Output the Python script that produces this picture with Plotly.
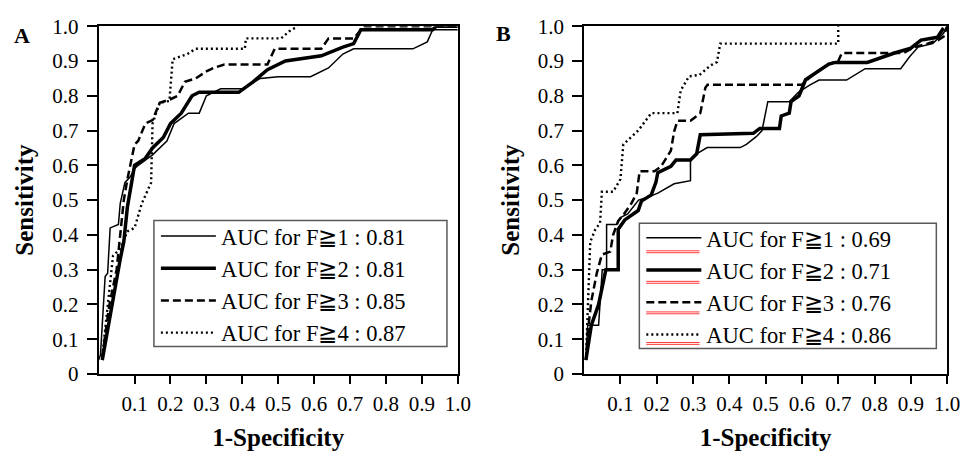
import plotly.graph_objects as go

# ---------------- data ----------------
# Panel A
A_F1_X = [0.0, 0.005, 0.018, 0.025, 0.032, 0.055, 0.06, 0.073, 0.088, 0.10, 0.11, 0.15, 0.19, 0.21, 0.25, 0.28, 0.30, 0.34, 0.40, 0.45, 0.50, 0.59, 0.64, 0.68, 0.71, 0.875, 0.915, 0.93, 1.0]
A_F1_Y = [0.04, 0.055, 0.28, 0.29, 0.42, 0.43, 0.49, 0.55, 0.567, 0.59, 0.60, 0.63, 0.67, 0.72, 0.75, 0.75, 0.80, 0.82, 0.82, 0.85, 0.855, 0.855, 0.88, 0.92, 0.935, 0.935, 0.955, 0.99, 0.99]

A_F2_X = [0.01, 0.02, 0.03, 0.04, 0.05, 0.06, 0.07, 0.08, 0.09, 0.10, 0.13, 0.15, 0.18, 0.20, 0.23, 0.26, 0.28, 0.39, 0.43, 0.47, 0.52, 0.62, 0.68, 0.71, 0.73, 0.93, 0.94, 1.0]
A_F2_Y = [0.04, 0.10, 0.16, 0.22, 0.28, 0.33, 0.38, 0.48, 0.54, 0.60, 0.62, 0.65, 0.68, 0.72, 0.75, 0.80, 0.81, 0.81, 0.84, 0.875, 0.90, 0.915, 0.94, 0.95, 0.99, 0.99, 1.0, 1.0]

A_F3_X = [0.01, 0.02, 0.03, 0.05, 0.06, 0.07, 0.08, 0.09, 0.10, 0.11, 0.13, 0.15, 0.17, 0.20, 0.22, 0.24, 0.27, 0.30, 0.32, 0.35, 0.47, 0.49, 0.62, 0.64, 0.71, 0.74, 1.0]
A_F3_Y = [0.05, 0.12, 0.20, 0.30, 0.40, 0.50, 0.56, 0.61, 0.66, 0.67, 0.72, 0.73, 0.78, 0.79, 0.80, 0.84, 0.85, 0.87, 0.88, 0.89, 0.89, 0.935, 0.935, 0.965, 0.965, 1.0, 1.0]

A_F4_X = [0.01, 0.02, 0.03, 0.04, 0.06, 0.08, 0.10, 0.12, 0.146, 0.15, 0.17, 0.197, 0.206, 0.247, 0.27, 0.407, 0.41, 0.508, 0.53, 0.554]
A_F4_Y = [0.05, 0.15, 0.25, 0.34, 0.36, 0.41, 0.42, 0.49, 0.55, 0.72, 0.78, 0.785, 0.905, 0.92, 0.935, 0.935, 0.965, 0.965, 0.985, 1.0]

# Panel B
B_F1_X = [0.005, 0.01, 0.04, 0.05, 0.062, 0.062, 0.09, 0.10, 0.12, 0.15, 0.18, 0.203, 0.248, 0.293, 0.293, 0.31, 0.339, 0.43, 0.447, 0.475, 0.49, 0.506, 0.565, 0.59, 0.62, 0.647, 0.723, 0.774, 0.872, 0.897, 0.92, 0.96, 0.99, 1.0]
B_F1_Y = [0.04, 0.14, 0.14, 0.30, 0.30, 0.43, 0.43, 0.45, 0.46, 0.50, 0.51, 0.52, 0.547, 0.556, 0.615, 0.633, 0.651, 0.651, 0.66, 0.683, 0.70, 0.783, 0.783, 0.81, 0.83, 0.845, 0.845, 0.878, 0.878, 0.913, 0.94, 0.95, 0.98, 1.0]

B_F2_X = [0.005, 0.02, 0.04, 0.05, 0.06, 0.094, 0.094, 0.112, 0.149, 0.158, 0.185, 0.198, 0.203, 0.239, 0.253, 0.293, 0.31, 0.32, 0.466, 0.484, 0.538, 0.543, 0.565, 0.57, 0.592, 0.61, 0.629, 0.656, 0.674, 0.692, 0.78, 0.855, 0.90, 0.928, 0.973, 0.99]
B_F2_Y = [0.04, 0.14, 0.20, 0.25, 0.30, 0.30, 0.416, 0.443, 0.47, 0.497, 0.515, 0.552, 0.579, 0.597, 0.615, 0.615, 0.633, 0.688, 0.692, 0.706, 0.706, 0.742, 0.75, 0.783, 0.80, 0.846, 0.86, 0.878, 0.891, 0.896, 0.896, 0.923, 0.937, 0.96, 0.968, 0.995]

B_F3_X = [0.005, 0.01, 0.02, 0.035, 0.049, 0.072, 0.08, 0.094, 0.11, 0.13, 0.145, 0.153, 0.194, 0.212, 0.239, 0.248, 0.257, 0.293, 0.32, 0.334, 0.34, 0.60, 0.629, 0.656, 0.674, 0.70, 0.71, 0.88, 0.91, 0.946, 0.975, 0.99, 1.0]
B_F3_Y = [0.04, 0.12, 0.21, 0.29, 0.343, 0.352, 0.40, 0.44, 0.46, 0.49, 0.52, 0.583, 0.583, 0.597, 0.642, 0.697, 0.728, 0.728, 0.75, 0.823, 0.832, 0.832, 0.86, 0.878, 0.891, 0.90, 0.923, 0.923, 0.94, 0.95, 0.96, 0.97, 1.0]

B_F4_X = [0.005, 0.01, 0.017, 0.031, 0.044, 0.049, 0.08, 0.10, 0.108, 0.149, 0.185, 0.257, 0.266, 0.289, 0.318, 0.348, 0.366, 0.375, 0.70, 0.70]
B_F4_Y = [0.04, 0.20, 0.38, 0.416, 0.434, 0.524, 0.524, 0.56, 0.66, 0.70, 0.75, 0.75, 0.815, 0.856, 0.86, 0.887, 0.897, 0.95, 0.95, 1.0]

A_NAMES = ["AUC for F\u22671 : 0.81", "AUC for F\u22672 : 0.81", "AUC for F\u22673 : 0.85", "AUC for F\u22674 : 0.87"]
B_NAMES = ["AUC for F\u22671 : 0.69", "AUC for F\u22672 : 0.71", "AUC for F\u22673 : 0.76", "AUC for F\u22674 : 0.86"]

X_TICKVALS = [0.1, 0.2, 0.3, 0.4, 0.5, 0.6, 0.7, 0.8, 0.9, 1.0]
X_TICKTEXT = ["0.1", "0.2", "0.3", "0.4", "0.5", "0.6", "0.7", "0.8", "0.9", "1.0"]
Y_TICKVALS = [0, 0.1, 0.2, 0.3, 0.4, 0.5, 0.6, 0.7, 0.8, 0.9, 1.0]
Y_TICKTEXT = ["0", "0.1", "0.2", "0.3", "0.4", "0.5", "0.6", "0.7", "0.8", "0.9", "1.0"]

# ---------------- styles ----------------
W, H = 973, 458
SERIF = "Liberation Serif, Times New Roman, serif"
LINE_STYLES = [
    dict(color="black", width=1.5, dash="solid"),
    dict(color="black", width=3.5, dash="solid"),
    dict(color="black", width=2.5, dash="8px,4px"),
    dict(color="black", width=2.4, dash="2px,3px"),
]
LEGEND_FONT = 22.5
ITEM_H = LEGEND_FONT * 1.3 + 3
ROW0_OFF = 28
LEG_TOP_A = 214
LEG_TOP_B = 216

fig = go.Figure()

panelA = [(A_F1_X, A_F1_Y), (A_F2_X, A_F2_Y), (A_F3_X, A_F3_Y), (A_F4_X, A_F4_Y)]
panelB = [(B_F1_X, B_F1_Y), (B_F2_X, B_F2_Y), (B_F3_X, B_F3_Y), (B_F4_X, B_F4_Y)]

for i, (xs, ys) in enumerate(panelA):
    fig.add_trace(go.Scatter(x=xs, y=ys, mode="lines", name=A_NAMES[i], line=LINE_STYLES[i],
                             xaxis="x", yaxis="y", legend="legend"))
for i, (xs, ys) in enumerate(panelB):
    fig.add_trace(go.Scatter(x=xs, y=ys, mode="lines", name=B_NAMES[i], line=LINE_STYLES[i],
                             xaxis="x2", yaxis="y2", legend="legend2"))

def xaxis_cfg(domain, anchor):
    return dict(domain=domain, anchor=anchor, range=[0, 1], tickmode="array",
                tickvals=X_TICKVALS, ticktext=X_TICKTEXT, ticks="outside", ticklen=8,
                tickwidth=1.5, tickcolor="black", showline=True, linecolor="black",
                linewidth=2, mirror=True, showgrid=False, zeroline=False,
                tickfont=dict(family=SERIF, size=21, color="black"),
                ticklabelstandoff=2,
                title=dict(text="<b>1-Specificity</b>", standoff=13,
                           font=dict(family=SERIF, size=25, color="black")))

def yaxis_cfg(domain, anchor):
    return dict(domain=domain, anchor=anchor, range=[0, 1], tickmode="array",
                tickvals=Y_TICKVALS, ticktext=Y_TICKTEXT, ticks="outside", ticklen=10,
                tickwidth=1.5, tickcolor="black", showline=True, linecolor="black",
                linewidth=2, mirror=True, showgrid=False, zeroline=False,
                tickfont=dict(family=SERIF, size=21, color="black"),
                ticklabelstandoff=4,
                title=dict(text="<b>Sensitivity</b>", standoff=11,
                           font=dict(family=SERIF, size=25, color="black")))

ydom = [(H - 382) / H, (H - 15) / H]

def legend_cfg(x_px, y_px):
    return dict(x=x_px / W, y=(H - y_px) / H, xanchor="left", yanchor="top",
                borderwidth=0, bgcolor="rgba(255,255,255,0)",
                font=dict(family=SERIF, size=LEGEND_FONT, color="black"),
                itemwidth=55, traceorder="normal", tracegroupgap=0)

def px_rect(x0, x1, y0, y1):
    return dict(type="rect", xref="paper", yref="paper", x0=x0 / W, x1=x1 / W,
                y0=(H - y1) / H, y1=(H - y0) / H, line=dict(color="#5a5a5a", width=1.5),
                fillcolor="rgba(0,0,0,0)")

shapes = [px_rect(156, 453, 220, 353), px_rect(648, 949, 223, 355)]
# red double underline marks under the legend samples of panel B
for k in range(4):
    yy = LEG_TOP_B + ROW0_OFF + k * ITEM_H + 9
    for off in [-1, 1]:
        shapes.append(dict(type="line", xref="paper", yref="paper",
                           x0=655 / W, x1=709 / W,
                           y0=(H - yy - off) / H, y1=(H - yy - off) / H,
                           line=dict(color="#ff3b3b", width=1)))

fig.update_layout(
    width=W, height=H, autosize=False,
    margin=dict(l=0, r=0, t=0, b=0),
    paper_bgcolor="white", plot_bgcolor="white",
    xaxis=xaxis_cfg([100 / W, 464 / W], "y"),
    yaxis=yaxis_cfg(ydom, "x"),
    xaxis2=xaxis_cfg([592 / W, 960 / W], "y2"),
    yaxis2=yaxis_cfg(ydom, "x2"),
    legend=legend_cfg(158, LEG_TOP_A),
    legend2=legend_cfg(650, LEG_TOP_B),
    showlegend=True,
    shapes=shapes,
    annotations=[
        dict(text="<b>A</b>", x=22 / W, y=(H - 25) / H, xref="paper", yref="paper",
             xanchor="center", yanchor="middle",
             showarrow=False, font=dict(family=SERIF, size=22, color="black")),
        dict(text="<b>B</b>", x=510 / W, y=(H - 23) / H, xref="paper", yref="paper",
             xanchor="center", yanchor="middle",
             showarrow=False, font=dict(family=SERIF, size=22, color="black")),
    ],
)

fig.write_html("out.html", config={"displayModeBar": False},
               post_script="document.body.style.margin='0';document.body.style.padding='0';")
